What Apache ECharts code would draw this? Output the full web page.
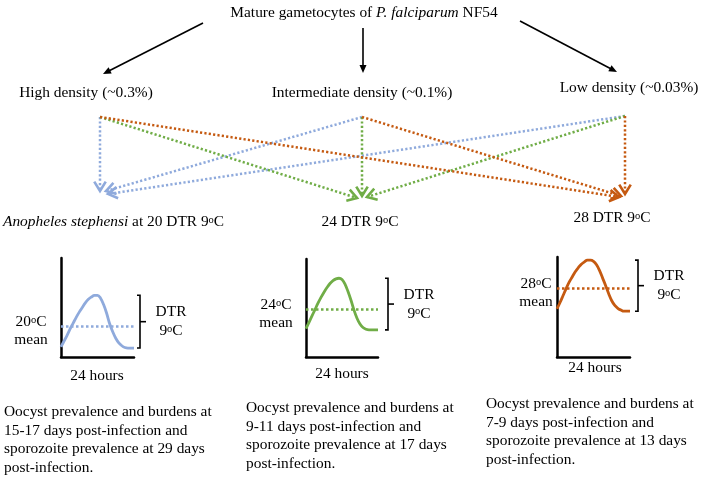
<!DOCTYPE html>
<html><head><meta charset="utf-8">
<script src="https://cdn.jsdelivr.net/npm/echarts@6/dist/echarts.min.js"></script>
<style>html,body{margin:0;padding:0;background:#fff}#c{width:708px;height:478px}</style>
</head><body><div id="c"></div>
<script>
// ---------- data ----------
const hours = [0,1,2,3,4,5,6,7,8,9,10,11,12,13,14,15,16,17,18,19,20,21,22,23,24];
const meanTemps = [20, 24, 28];
const dtrC = 9;
const temp20 = [16.4,17.4,18.4,19.5,20.5,21.5,22.4,23.2,24.0,24.6,25.0,25.3,25.3,24.8,23.7,22.2,20.4,19.0,17.9,17.1,16.6,16.3,16.2,16.2,16.2];
const temp24 = [20.6,21.7,22.8,23.9,25.0,26.0,26.9,27.7,28.4,28.9,29.2,29.3,29.1,28.3,27.0,25.5,23.8,22.4,21.4,20.8,20.5,20.4,20.4,20.4,20.4];
const temp28 = [24.4,25.5,26.7,27.9,29.0,29.9,30.8,31.5,32.1,32.5,32.8,32.8,32.6,32.0,31.0,29.7,28.4,27.0,25.8,25.0,24.5,24.2,24.0,24.0,24.0];
const densityLabels = ['High density (~0.3%)', 'Intermediate density (~0.1%)', 'Low density (~0.03%)'];
const siteLabels = ['{i|Anopheles stephensi} at 20 DTR 9{s|o}C', '24 DTR 9{s|o}C', '28 DTR 9{s|o}C'];
const outcomeTexts = [
  'Oocyst prevalence and burdens at\n15-17 days post-infection and\nsporozoite prevalence at 29 days\npost-infection.',
  'Oocyst prevalence and burdens at\n9-11 days post-infection and\nsporozoite prevalence at 17 days\npost-infection.',
  'Oocyst prevalence and burdens at\n7-9 days post-infection and\nsporozoite prevalence at 13 days\npost-infection.'
];
const titleText = 'Mature gametocytes of {i|P. falciparum} NF54';
const xAxisLabel = '24 hours';

// ---------- styling / layout ----------
const BLUE = '#8FAADC', GREEN = '#70AD47', ORANGE = '#C55A11';
const colors = [BLUE, GREEN, ORANGE];
const curves = [temp20, temp24, temp28];
const FF = "'Liberation Serif','Times New Roman',serif";
const F = '15.4px ' + FF;
const RICH = {
  i: { font: 'italic 15.4px ' + FF, fill: '#000' },
  s: { font: '10.5px ' + FF, fill: '#000', lineHeight: 1, verticalAlign: 'top' }
};
const panels = [
  { left: 61, top: 258, width: 73, height: 99, ymin: 14.66, ymax: 31.73, bx: 140, meanX: 31, hoursX: 97, hoursY: 376, siteX: 3, siteY: 222, siteAlign: 'left', densX: 86, densY: 93, outX: 4, outY: 412 },
  { left: 306, top: 259, width: 72, height: 98, ymin: 15.72, ymax: 32.62, bx: 388, meanX: 276, hoursX: 342, hoursY: 374, siteX: 360, siteY: 222, siteAlign: 'center', densX: 362, densY: 93, outX: 246, outY: 408 },
  { left: 557, top: 257, width: 73, height: 100, ymin: 16.1, ymax: 33.34, bx: 638, meanX: 536, hoursX: 595, hoursY: 368, siteX: 612, siteY: 218, siteAlign: 'center', densX: 629, densY: 88, outX: 486, outY: 404 }
];

const chart = echarts.init(document.getElementById('c'), null, { renderer: 'canvas' });

const grids = [], xAxes = [], yAxes = [], series = [];
panels.forEach((p, i) => {
  grids.push({ left: p.left, top: p.top, width: p.width, height: p.height });
  const axLine = { show: true, onZero: false, lineStyle: { color: '#000', width: 2.5 } };
  xAxes.push({ type: 'value', gridIndex: i, min: 0, max: 24, axisLine: axLine, axisTick: { show: false }, axisLabel: { show: false }, splitLine: { show: false } });
  yAxes.push({ type: 'value', gridIndex: i, min: p.ymin, max: p.ymax, axisLine: axLine, axisTick: { show: false }, axisLabel: { show: false }, splitLine: { show: false } });
  series.push({
    type: 'line', xAxisIndex: i, yAxisIndex: i, smooth: 0.4, showSymbol: false, silent: true,
    data: hours.map((h, k) => [h, curves[i][k]]),
    lineStyle: { color: colors[i], width: 2.8 },
    markLine: { silent: true, symbol: ['none', 'none'], label: { show: false },
      lineStyle: { type: [2.5, 2.5], color: colors[i], width: 2.5 },
      data: [{ yAxis: meanTemps[i] }] }
  });
});

chart.setOption({ animation: false, grid: grids, xAxis: xAxes, yAxis: yAxes, series: series });

// ---------- graphic helpers ----------
function txt(x, y, text, align, vAlign, extra) {
  const st = Object.assign({ text: text, font: F, fill: '#000', align: align, verticalAlign: vAlign,
    textAlign: align, textVerticalAlign: vAlign, rich: RICH }, extra || {});
  return { type: 'text', x: x, y: y, silent: true, style: st };
}
function seg(x1, y1, x2, y2, color, w, dash) {
  return { type: 'line', silent: true, shape: { x1, y1, x2, y2 }, style: { stroke: color, lineWidth: w, lineDash: dash || null } };
}
function vHead(x1, y1, x2, y2, color, len, ang, w) {
  const a = Math.atan2(y2 - y1, x2 - x1);
  const p1 = [x2 - len * Math.cos(a - ang), y2 - len * Math.sin(a - ang)];
  const p2 = [x2 - len * Math.cos(a + ang), y2 - len * Math.sin(a + ang)];
  return { type: 'polyline', silent: true, shape: { points: [p1, [x2, y2], p2] }, style: { stroke: color, lineWidth: w, fill: null, lineJoin: 'miter' } };
}
function triHead(x1, y1, x2, y2, color, len, half) {
  const a = Math.atan2(y2 - y1, x2 - x1);
  const bx = x2 - len * Math.cos(a), by = y2 - len * Math.sin(a);
  const nx = -Math.sin(a) * half, ny = Math.cos(a) * half;
  return { type: 'polygon', silent: true, shape: { points: [[x2, y2], [bx + nx, by + ny], [bx - nx, by - ny]] }, style: { fill: color } };
}

const g = [];
// title
g.push(txt(364, 13, titleText, 'center', 'middle'));
// solid arrows from title
[[203, 23, 103, 74], [363, 28, 363, 73], [520, 21, 617, 72]].forEach(a => {
  const ang = Math.atan2(a[3] - a[1], a[2] - a[0]);
  g.push(seg(a[0], a[1], a[2] - 7 * Math.cos(ang), a[3] - 7 * Math.sin(ang), '#000', 1.6));
  g.push(triHead(a[0], a[1], a[2], a[3], '#000', 8, 3.5));
});
// density labels
panels.forEach((p, i) => g.push(txt(p.densX, p.densY, densityLabels[i], 'center', 'middle')));

// dotted cross arrows
const sources = [[100, 117], [362, 117], [625, 116]];
const ends = [
  [[100, 191], [106, 191], [108, 194]],
  [[357, 198], [362, 196], [367, 197]],
  [[619, 197], [621, 196], [625, 194]]
];
for (let t = 0; t < 3; t++) {
  for (let s = 0; s < 3; s++) {
    const [x1, y1] = sources[s], [x2, y2] = ends[t][s];
    g.push(seg(x1, y1, x2, y2, colors[t], 2.5, [2.2, 2.2]));
    g.push(vHead(x1, y1, x2, y2, colors[t], 11, 0.55, 2.6));
  }
}
// site labels
panels.forEach((p, i) => g.push(txt(p.siteX, p.siteY, siteLabels[i], p.siteAlign, 'middle')));

// panels annotations
panels.forEach((p, i) => {
  const c = curves[i];
  const hi = Math.max.apply(null, c), lo = Math.min.apply(null, c);
  const yTop = chart.convertToPixel({ gridIndex: i }, [24, hi])[1];
  const yBot = chart.convertToPixel({ gridIndex: i }, [24, lo])[1];
  const yMean = chart.convertToPixel({ gridIndex: i }, [0, meanTemps[i]])[1];
  const mid = (yTop + yBot) / 2;
  g.push({ type: 'polyline', silent: true, shape: { points: [[p.bx - 3, yTop], [p.bx, yTop], [p.bx, yBot], [p.bx - 3, yBot]] }, style: { stroke: '#000', lineWidth: 1.6, fill: null } });
  g.push(seg(p.bx, mid, p.bx + 6, mid, '#000', 1.6));
  g.push(txt(p.bx + 31, mid - 9.5, 'DTR', 'center', 'middle'));
  g.push(txt(p.bx + 31, mid + 9.5, dtrC + '{s|o}C', 'center', 'middle'));
  g.push(txt(p.meanX, yMean - 4, meanTemps[i] + '{s|o}C', 'center', 'middle'));
  g.push(txt(p.meanX, yMean + 14, 'mean', 'center', 'middle'));
  g.push(txt(p.hoursX, p.hoursY, xAxisLabel, 'center', 'middle'));
  g.push(txt(p.outX, p.outY - 9.25, outcomeTexts[i], 'left', 'top', { lineHeight: 18.5 }));
});

chart.setOption({ graphic: { elements: g } });
</script>
</body></html>
